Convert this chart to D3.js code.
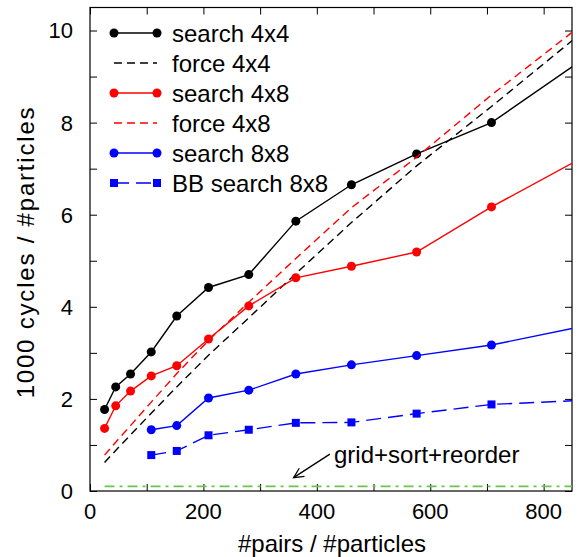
<!DOCTYPE html>
<html><head><meta charset="utf-8">
<script src="https://cdn.jsdelivr.net/npm/d3@7/dist/d3.min.js"></script>
<style>
html,body{margin:0;padding:0;background:#fff;}
text{font-family:"Liberation Sans",Arial,sans-serif;fill:#000;}
</style></head>
<body>
<svg id="chart" width="579" height="557"></svg>
<script>
// ---- data ----
const pairs = [25.7, 45.3, 71.5, 108, 153, 209, 280, 363, 461, 576, 708, 870];
const search4x4 = [1.77, 2.26, 2.54, 3.02, 3.80, 4.42, 4.70, 5.86, 6.65, 7.32, 8.00, 9.38];
const force4x4  = [0.62, 0.88, 1.22, 1.69, 2.26, 2.95, 3.76, 4.72, 5.83, 7.06, 8.35, 9.98];
const search4x8 = [1.36, 1.85, 2.17, 2.50, 2.72, 3.30, 4.02, 4.63, 4.88, 5.19, 6.17, 7.25];
const force4x8  = [0.78, 1.06, 1.42, 1.93, 2.55, 3.27, 4.10, 5.05, 6.15, 7.25, 8.60, 10.15];
const search8x8 = [null, null, null, 1.33, 1.42, 2.02, 2.19, 2.54, 2.74, 2.94, 3.17, 3.58];
const bbSearch8x8 = [null, null, null, 0.78, 0.87, 1.21, 1.33, 1.48, 1.49, 1.68, 1.88, 1.97];
const gridSortReorder = [0.10, 0.10, 0.10, 0.10, 0.10, 0.10, 0.10, 0.10, 0.10, 0.10, 0.10, 0.10];
const xTicks = [0, 100, 200, 300, 400, 500, 600, 700, 800];
const xTickLabels = [0, 200, 400, 600, 800];
const yTicks = [0, 1, 2, 3, 4, 5, 6, 7, 8, 9, 10];
const yTickLabels = [0, 2, 4, 6, 8, 10];
const seriesNames = ["search 4x4", "force 4x4", "search 4x8", "force 4x8", "search 8x8", "BB search 8x8"];
const annotationText = "grid+sort+reorder";
const annotationArrow = {from: [423, 0.80], to: [359, 0.29]};

// ---- layout ----
const L = 90, R = 572, T = 7.5, B = 491;
const svg = d3.select("#chart");
const x = d3.scaleLinear().domain([0, 850]).range([L, R]);
const y = d3.scaleLinear().domain([0, 10.5]).range([B, T]);

svg.append("defs").append("clipPath").attr("id", "clip")
  .append("rect").attr("x", L).attr("y", T).attr("width", R - L).attr("height", B - T);

const series = [
  {name: seriesNames[0], vals: search4x4, color: "#000", dash: null, marker: "circle"},
  {name: seriesNames[1], vals: force4x4, color: "#000", dash: "8,5", marker: null},
  {name: seriesNames[2], vals: search4x8, color: "#f00", dash: null, marker: "circle"},
  {name: seriesNames[3], vals: force4x8, color: "#f00", dash: "8,5", marker: null},
  {name: seriesNames[4], vals: search8x8, color: "#00f", dash: null, marker: "circle"},
  {name: seriesNames[5], vals: bbSearch8x8, color: "#00f", dash: "15,7", marker: "square"}
];

// axes (ticks inside, mirrored)
const fs = "22px";
const axB = svg.append("g").attr("transform", `translate(0,${B})`)
  .call(d3.axisBottom(x).tickValues(xTicks).tickSize(-7).tickFormat(""));
const axT = svg.append("g").attr("transform", `translate(0,${T})`)
  .call(d3.axisTop(x).tickValues(xTicks).tickSize(-7).tickFormat(""));
const axL = svg.append("g").attr("transform", `translate(${L},0)`)
  .call(d3.axisLeft(y).tickValues(yTicks).tickSize(-7).tickFormat(""));
const axR = svg.append("g").attr("transform", `translate(${R},0)`)
  .call(d3.axisRight(y).tickValues(yTicks).tickSize(-7).tickFormat(""));
[axB, axT, axL, axR].forEach(a => {
  a.select(".domain").remove();
  a.selectAll("line").attr("stroke", "#000").attr("stroke-width", 1);
});
svg.append("rect").attr("x", L).attr("y", T).attr("width", R - L).attr("height", B - T)
  .attr("fill", "none").attr("stroke", "#000").attr("stroke-width", 1.2);

svg.append("g").selectAll("text").data(xTickLabels).join("text")
  .attr("x", d => x(d)).attr("y", 519).attr("text-anchor", "middle")
  .style("font-size", fs).text(d => d);
svg.append("g").selectAll("text").data(yTickLabels).join("text")
  .attr("x", 73).attr("y", d => y(d)).attr("dy", "0.36em").attr("text-anchor", "end")
  .style("font-size", fs).text(d => d);

svg.append("text").attr("x", 332).attr("y", 552).attr("text-anchor", "middle")
  .style("font-size", "24px").text("#pairs / #particles");
svg.append("text").attr("transform", "translate(34,252) rotate(-90)").attr("text-anchor", "middle")
  .style("font-size", "24px").style("letter-spacing", "1.8px").text("1000 cycles / #particles");

// plot area
const plot = svg.append("g").attr("clip-path", "url(#clip)");
const line = d3.line().defined(d => d[1] != null).x(d => x(d[0])).y(d => y(d[1]));

// green grid+sort+reorder
plot.append("path").datum(pairs.map((p, i) => [p, gridSortReorder[i]]))
  .attr("d", line).attr("fill", "none").attr("stroke", "#66c84a").attr("stroke-width", 1.7)
  .attr("stroke-dasharray", "10,5,3,5");

series.forEach(s => {
  const pts = pairs.map((p, i) => [p, s.vals[i]]);
  plot.append("path").datum(pts).attr("d", line).attr("fill", "none")
    .attr("stroke", s.color).attr("stroke-width", 1.4)
    .attr("stroke-dasharray", s.dash);
  const valid = pts.filter(d => d[1] != null && d[0] <= 850);
  if (s.marker === "circle") {
    plot.selectAll(null).data(valid).join("circle")
      .attr("cx", d => x(d[0])).attr("cy", d => y(d[1])).attr("r", 4.5).attr("fill", s.color);
  } else if (s.marker === "square") {
    plot.selectAll(null).data(valid).join("rect")
      .attr("x", d => x(d[0]) - 4).attr("y", d => y(d[1]) - 4)
      .attr("width", 8).attr("height", 8).attr("fill", s.color);
  }
});

// annotation
const ax0 = x(annotationArrow.from[0]), ay0 = y(annotationArrow.from[1]);
const ax1 = x(annotationArrow.to[0]), ay1 = y(annotationArrow.to[1]);
svg.append("line").attr("x1", ax0).attr("y1", ay0).attr("x2", ax1).attr("y2", ay1)
  .attr("stroke", "#000").attr("stroke-width", 1.3);
const ang = Math.atan2(ay1 - ay0, ax1 - ax0);
const hl = 11, hw = 0.45;
const head = [
  [ax1 - hl * Math.cos(ang - hw), ay1 - hl * Math.sin(ang - hw)],
  [ax1, ay1],
  [ax1 - hl * Math.cos(ang + hw), ay1 - hl * Math.sin(ang + hw)]
];
svg.append("path").attr("d", d3.line()(head)).attr("fill", "none")
  .attr("stroke", "#000").attr("stroke-width", 1.3);
svg.append("text").attr("x", 334).attr("y", 463).style("font-size", "24px").text(annotationText);

// legend
const lg = svg.append("g");
series.forEach((s, i) => {
  const cy = 33 + i * 30, x0 = 114, x1 = 157;
  lg.append("line").attr("x1", x0).attr("x2", x1).attr("y1", cy).attr("y2", cy)
    .attr("stroke", s.color).attr("stroke-width", 1.4).attr("stroke-dasharray", s.dash);
  [x0, x1].forEach(px => {
    if (s.marker === "circle") lg.append("circle").attr("cx", px).attr("cy", cy).attr("r", 4.5).attr("fill", s.color);
    if (s.marker === "square") lg.append("rect").attr("x", px - 4).attr("y", cy - 4).attr("width", 8).attr("height", 8).attr("fill", s.color);
  });
  lg.append("text").attr("x", 172).attr("y", cy).attr("dy", "0.36em")
    .style("font-size", "24px").text(s.name);
});
</script>
</body></html>
